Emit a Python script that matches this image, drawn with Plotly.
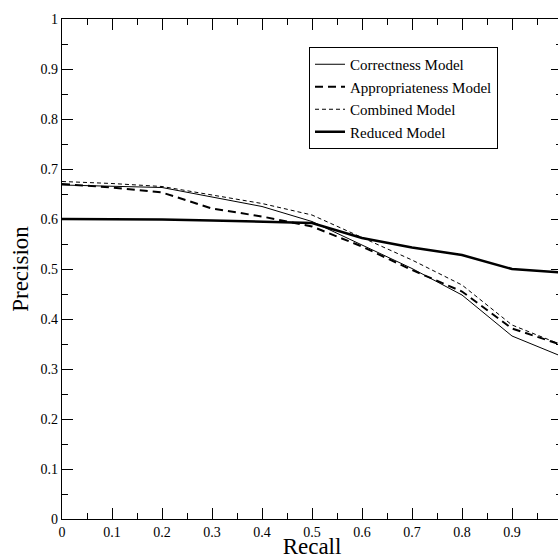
import plotly.graph_objects as go

recall = [0.0, 0.1, 0.2, 0.3, 0.4, 0.5, 0.6, 0.7, 0.8, 0.9, 1.0]
correctness = [0.668, 0.666, 0.663, 0.644, 0.625, 0.595, 0.548, 0.501, 0.448, 0.366, 0.325]
appropriateness = [0.670, 0.663, 0.653, 0.621, 0.605, 0.585, 0.545, 0.498, 0.455, 0.381, 0.348]
combined = [0.675, 0.671, 0.665, 0.648, 0.631, 0.608, 0.563, 0.518, 0.468, 0.388, 0.348]
reduced = [0.600, 0.600, 0.599, 0.597, 0.594, 0.592, 0.562, 0.543, 0.528, 0.500, 0.493]

names = ["Correctness Model", "Appropriateness Model", "Combined Model", "Reduced Model"]
series = [correctness, appropriateness, combined, reduced]
styles = [
    dict(color="black", width=1, dash="solid"),
    dict(color="black", width=2, dash="8px,5px"),
    dict(color="black", width=1, dash="4px,3px"),
    dict(color="black", width=2.5, dash="solid"),
]

fig = go.Figure()
for n, s, st in zip(names, series, styles):
    fig.add_trace(go.Scatter(x=recall, y=s, mode="lines", name=n, line=st))

serif = "Liberation Serif, Times New Roman, serif"
axis_common = dict(
    showline=True, linecolor="black", linewidth=1.3, mirror="ticks",
    ticks="inside", ticklen=11, tickwidth=1.3, tickcolor="black",
    showgrid=False, zeroline=False, dtick=0.1, tick0=0, automargin=False,
    tickfont=dict(family=serif, size=14, color="black"),
    minor=dict(ticks="inside", ticklen=6, tickwidth=1, tickcolor="black", dtick=0.05, showgrid=False),
)

fig.update_layout(
    width=562, height=559,
    margin=dict(l=62, r=0, t=19, b=40),
    paper_bgcolor="white", plot_bgcolor="white",
    font=dict(family=serif, color="black"),
    showlegend=True,
    legend=dict(
        x=0.494, y=0.944, xanchor="left", yanchor="top",
        bordercolor="black", borderwidth=1, bgcolor="white",
        font=dict(family=serif, size=15, color="black"),
        tracegroupgap=0, itemwidth=30,
    ),
    xaxis=dict(range=[0, 1],
               title=dict(text="Recall", font=dict(family=serif, size=23, color="black"), standoff=3),
               **axis_common),
    yaxis=dict(range=[0, 1],
               title=dict(text="Precision", font=dict(family=serif, size=23, color="black"), standoff=5),
               **axis_common),
)

fig.write_html(
    "out.html",
    config={"displayModeBar": False},
    post_script="document.body.style.margin='0';document.body.style.overflow='hidden';",
)
